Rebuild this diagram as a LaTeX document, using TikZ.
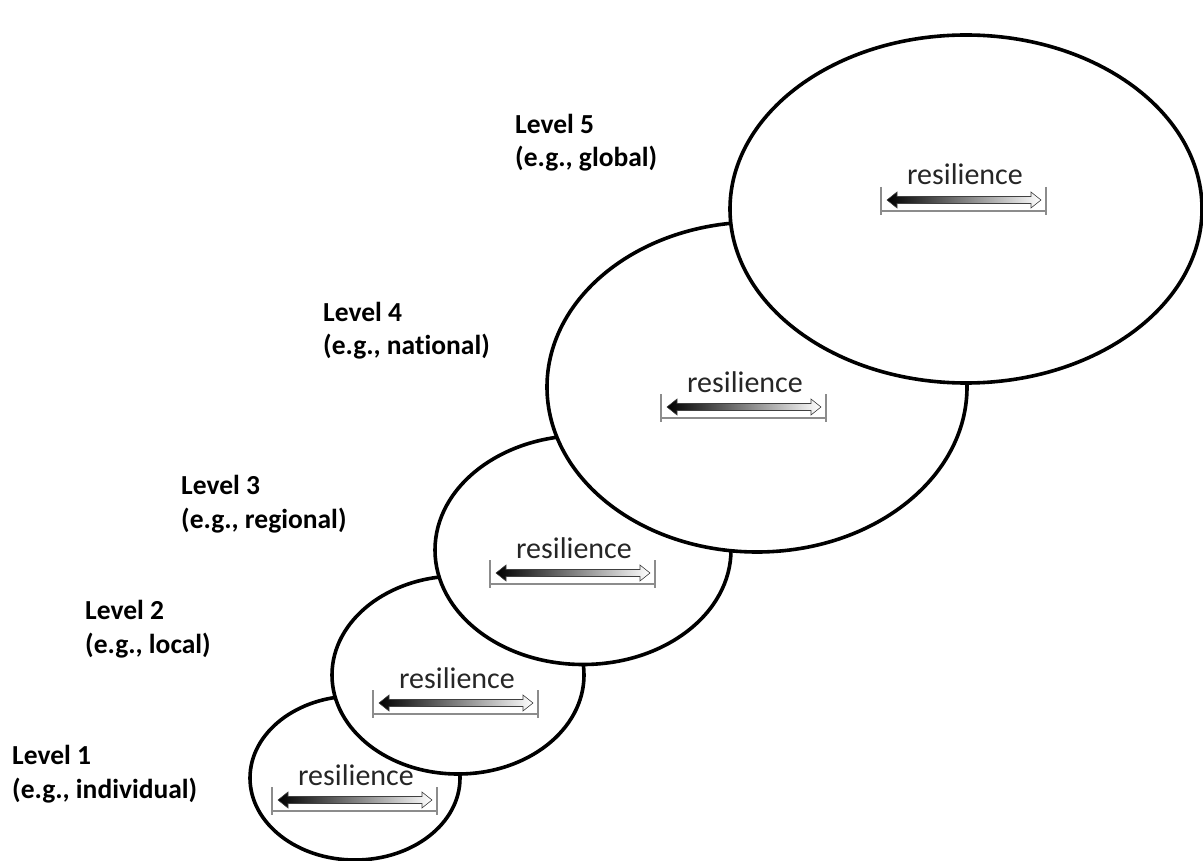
\documentclass[tikz,border=0pt]{standalone}
\usepackage{fontspec}
\setmainfont{Carlito}[Ligatures=NoCommon]
\usepackage{tikz}
\usetikzlibrary{positioning,calc,shapes.geometric}

\begin{document}
\begin{tikzpicture}[
    x=1pt, y=-1pt,
    lvl/.style={font=\fontsize{27.5}{33.5}\selectfont\bfseries, align=left, inner sep=0pt, anchor=base west},
    blob/.style={draw, ellipse, line width=3.6pt, fill=white, inner sep=0pt},
    res/.style={font=\fontsize{30}{34}\selectfont, text=black!85, inner sep=0pt, anchor=base},
    bar/.style={draw=black!75, line width=0.6pt, left color=black, right color=white},
    brk/.style={draw=black!45, line width=1.4pt}
  ]
  \useasboundingbox (0,0) rectangle (1203,861);

  % scale marker under each label
  \newcommand{\resbar}[1]{%
    \shade[bar] ($(#1.base)+(-78,15)$) -- ++(10,-8) -- ++(0,4.5) -- ++(134,0) -- ++(0,-4.5)
      -- ++(10,8) -- ++(-10,8) -- ++(0,-4.5) -- ++(-134,0) -- ++(0,4.5) -- cycle;
    \draw[brk] ($(#1.base)+(-84,2)$) -- ++(0,28) ($(#1.base)+(81,2)$) -- ++(0,28)
      ($(#1.base)+(-84,26)$) -- ++(165,0);}

  % ellipses, small to large so the larger lie on top
  \node[blob, minimum width=210, minimum height=164] (e1) at (355,778) {};
  \node[blob, minimum width=252, minimum height=198] (e2) at (458,675) {};
  \node[blob, minimum width=296, minimum height=229] (e3) at (583,550) {};
  \node[blob, minimum width=420, minimum height=330] (e4) at (757,387) {};
  \node[blob, minimum width=472, minimum height=348] (e5) at (966,209) {};

  \node[res] (r1) at (356,785) {resilience};
  \node[res] (r2) at (457,688) {resilience};
  \node[res] (r3) at (574,558) {resilience};
  \node[res] (r4) at (745,392) {resilience};
  \node[res] (r5) at (965,185) {resilience};
  \resbar{r1}
  \resbar{r2}
  \resbar{r3}
  \resbar{r4}
  \resbar{r5}

  % labels, anchored on their second line
  \node[lvl] (l1) at ( 12,798) {Level 1\\(e.g., individual)};
  \node[lvl] (l2) at ( 85,653) {Level 2\\(e.g., local)};
  \node[lvl] (l3) at (181,528) {Level 3\\(e.g., regional)};
  \node[lvl] (l4) at (323,355) {Level 4\\(e.g., national)};
  \node[lvl] (l5) at (515,167) {Level 5\\(e.g., global)};
\end{tikzpicture}
\end{document}
